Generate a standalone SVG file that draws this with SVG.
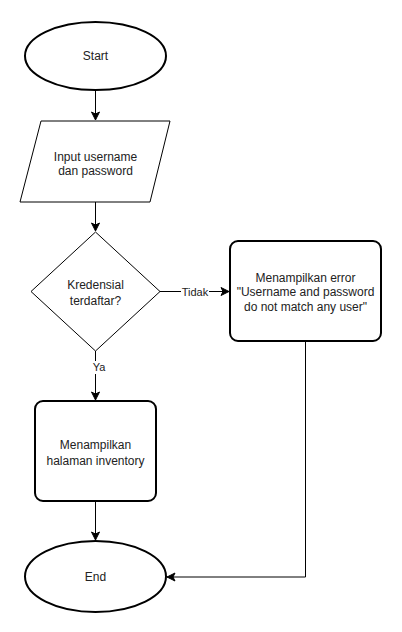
<svg xmlns="http://www.w3.org/2000/svg" width="402" height="632" viewBox="0 0 402 632">
<style>
.n{fill:#fff;stroke:#000}
.t{font-family:"Liberation Sans",Arial,sans-serif;font-size:12px;fill:#222;text-anchor:middle}
.l{font-family:"Liberation Sans",Arial,sans-serif;font-size:11px;fill:#222;text-anchor:middle}
.c{fill:none;stroke:#000;stroke-width:1}
</style>
<defs>
<marker id="a" markerWidth="10" markerHeight="10" viewBox="0 0 10 10" refX="9" refY="5" orient="auto" markerUnits="userSpaceOnUse">
<path d="M1,1 L9,5 L1,9 L3,5 Z" fill="#000" stroke="#000" stroke-width="1"/>
</marker>
</defs>
<rect width="402" height="632" fill="#fff"/>
<g id="connectors">
<path class="c" d="M95.5,90 V120" marker-end="url(#a)"/>
<path class="c" d="M95.5,202 V231" marker-end="url(#a)"/>
<path class="c" d="M160,291.5 H229" marker-end="url(#a)"/>
<path class="c" d="M95.5,351 V400" marker-end="url(#a)"/>
<path class="c" d="M95.5,501 V540" marker-end="url(#a)"/>
<path class="c" d="M305.5,341 V577 H167" marker-end="url(#a)"/>
<rect x="181" y="285" width="28" height="13" fill="#fff"/>
<text class="l" x="195" y="296">Tidak</text>
<rect x="91" y="361" width="16" height="13" fill="#fff"/>
<text class="l" x="99" y="371">Ya</text>
</g>
<g id="start">
<ellipse class="n" cx="95.5" cy="56" rx="70.5" ry="34" stroke-width="2"/>
<text class="t" x="95.5" y="60">Start</text>
</g>
<g id="input">
<polygon class="n" points="41,121 170,121 150,202 20,202" stroke-width="1"/>
<text class="t" x="95.5" y="161">Input username</text>
<text class="t" x="95.5" y="175">dan password</text>
</g>
<g id="decision">
<polygon class="n" points="95.5,232 160,291.5 95.5,351 31,291.5" stroke-width="1"/>
<text class="t" x="95.5" y="289">Kredensial</text>
<text class="t" x="95.5" y="305">terdaftar?</text>
</g>
<g id="error">
<rect class="n" x="230" y="241" width="151" height="100" rx="8" stroke-width="2"/>
<text class="t" x="305.5" y="281.5">Menampilkan error</text>
<text class="t" x="305.5" y="296">"Username and password</text>
<text class="t" x="305.5" y="311">do not match any user"</text>
</g>
<g id="inventory">
<rect class="n" x="35" y="401" width="121" height="100" rx="8" stroke-width="2"/>
<text class="t" x="95.5" y="449">Menampilkan</text>
<text class="t" x="95.5" y="465">halaman inventory</text>
</g>
<g id="end">
<ellipse class="n" cx="95.5" cy="576.5" rx="70.5" ry="35.5" stroke-width="2"/>
<text class="t" x="95.5" y="581">End</text>
</g>
</svg>
